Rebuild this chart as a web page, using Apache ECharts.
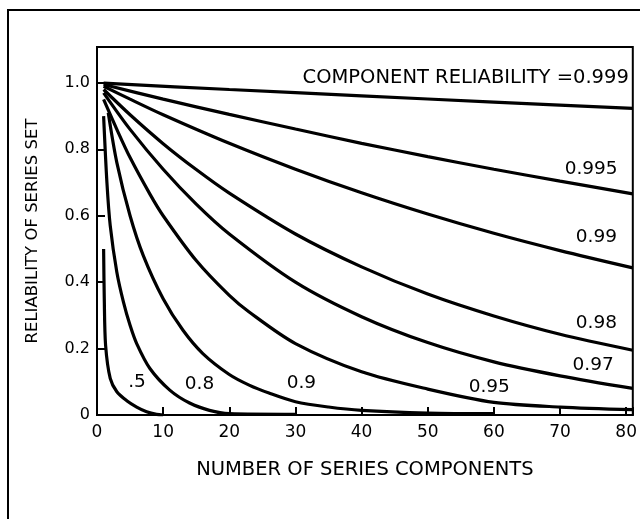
<!DOCTYPE html>
<html>
<head>
<meta charset="utf-8">
<script src="https://cdn.jsdelivr.net/npm/echarts@6/dist/echarts.min.js"></script>
<style>
  html, body { margin: 0; padding: 0; background: #fff; }
  #chart { width: 640px; height: 519px; }
</style>
</head>
<body>
<div id="chart"></div>
<script>
// number of series components (x) and reliability of the set (y)
const n999 = [1, 20, 40, 60, 81];
const r999 = [0.999, 0.98, 0.961, 0.942, 0.923];
const n995 = [1, 10, 20, 30, 40, 50, 60, 70, 81];
const r995 = [0.995, 0.951, 0.905, 0.861, 0.818, 0.778, 0.74, 0.704, 0.666];
const n99 = [1, 5, 10, 20, 30, 40, 50, 60, 70, 81];
const r99 = [0.99, 0.951, 0.904, 0.818, 0.74, 0.669, 0.605, 0.547, 0.495, 0.443];
const n98 = [1, 5, 10, 15, 20, 30, 40, 50, 60, 70, 81];
const r98 = [0.98, 0.904, 0.817, 0.739, 0.668, 0.545, 0.446, 0.364, 0.298, 0.243, 0.195];
const n97 = [1, 5, 10, 15, 20, 30, 40, 50, 60, 70, 81];
const r97 = [0.97, 0.86, 0.74, 0.635, 0.545, 0.4, 0.296, 0.218, 0.16, 0.118, 0.08];
const n95 = [1, 3, 5, 8, 10, 15, 20, 23, 30, 40, 50, 60, 70, 81];
const r95 = [0.95, 0.86, 0.775, 0.665, 0.6, 0.465, 0.36, 0.31, 0.215, 0.13, 0.078, 0.038, 0.024, 0.016];
const n90 = [1.7, 3, 5, 7, 10, 13, 16, 20, 23, 26, 30, 35, 40, 50, 60];
const r90 = [0.91, 0.76, 0.6, 0.48, 0.35, 0.255, 0.185, 0.122, 0.09, 0.066, 0.04, 0.024, 0.014, 0.006, 0.004];
const n80 = [1, 1.5, 2, 3, 4, 5, 6, 8, 11, 14, 17, 20, 30];
const r80 = [0.9, 0.7, 0.57, 0.43, 0.34, 0.27, 0.215, 0.14, 0.075, 0.036, 0.014, 0.004, 0.002];
const n50 = [1, 1.1, 1.3, 2, 3, 4.5, 6, 7.5, 9, 10];
const r50 = [0.5, 0.35, 0.21, 0.11, 0.07, 0.043, 0.024, 0.01, 0.002, 0];

// curve labels and where they sit, in data units
const labelText = ['COMPONENT RELIABILITY =0.999', '0.995', '0.99', '0.98', '0.97', '0.95', '0.9', '0.8', '.5'];
const labelN = [80.4, 74.7, 75.5, 75.5, 75.0, 59.3, 30.9, 15.5, 6.05];
const labelR = [1.015, 0.741, 0.536, 0.277, 0.151, 0.084, 0.096, 0.093, 0.099];

const xTicks = [0, 10, 20, 30, 40, 50, 60, 70, 80];
const yTicks = ['0', '0.2', '0.4', '0.6', '0.8', '1.0'];

const font = 'DejaVu Sans';
const pairs = (ns, rs) => ns.map((n, i) => [n, rs[i]]);
const curves = [
  [n999, r999], [n995, r995], [n99, r99], [n98, r98], [n97, r97],
  [n95, r95], [n90, r90], [n80, r80], [n50, r50]
];

const series = curves.map((c, i) => ({
  name: labelText[i],
  type: 'line',
  data: pairs(c[0], c[1]),
  smooth: 0.3,
  symbol: 'none',
  lineStyle: { color: '#000', width: 3.2 },
  silent: true,
  z: 3
}));

series.push({
  type: 'scatter',
  symbolSize: 0,
  silent: true,
  z: 5,
  data: labelText.map((t, i) => ({
    value: [labelN[i], labelR[i]],
    label: {
      show: true,
      position: 'inside',
      formatter: t,
      align: i === 0 ? 'right' : 'center',
      color: '#000',
      opacity: 1,
      textBorderWidth: 0,
      fontFamily: font,
      fontSize: i === 0 ? 19.5 : 18.5
    }
  }))
});

const chart = echarts.init(document.getElementById('chart'));
chart.setOption({
  animation: false,
  backgroundColor: '#fff',
  grid: {
    left: 97, top: 47, right: 3, bottom: 104,
    show: true, borderColor: '#000', borderWidth: 2
  },
  graphic: [{
    type: 'rect',
    shape: { x: 8, y: 10, width: 700, height: 600 },
    style: { fill: 'none', stroke: '#000', lineWidth: 2 },
    z: -1
  }],
  xAxis: {
    type: 'value',
    min: 0, max: 81, interval: 10,
    name: 'NUMBER OF SERIES COMPONENTS',
    nameLocation: 'middle',
    nameGap: 45,
    nameTextStyle: { fontFamily: font, fontSize: 19.5, color: '#000' },
    axisLine: { lineStyle: { color: '#000', width: 2 } },
    axisTick: { inside: true, length: 8, lineStyle: { color: '#000', width: 2 } },
    axisLabel: {
      margin: 9, fontFamily: font, fontSize: 17, color: '#000',
      formatter: v => (xTicks.indexOf(v) >= 0 ? String(v) : '')
    },
    splitLine: { show: false }
  },
  yAxis: {
    type: 'value',
    min: 0, max: 1.108, interval: 0.2,
    name: 'RELIABILITY OF SERIES SET',
    nameLocation: 'middle',
    nameGap: 56,
    nameTextStyle: { fontFamily: font, fontSize: 16.5, color: '#000' },
    axisLine: { lineStyle: { color: '#000', width: 2 } },
    axisTick: { inside: true, length: 8, lineStyle: { color: '#000', width: 2 } },
    axisLabel: {
      margin: 7, fontFamily: font, fontSize: 16, color: '#000',
      formatter: v => {
        const k = Math.round(v / 0.2);
        return Math.abs(v - k * 0.2) < 1e-6 && k < yTicks.length ? yTicks[k] : '';
      }
    },
    splitLine: { show: false }
  },
  series: series
});
</script>
</body>
</html>
